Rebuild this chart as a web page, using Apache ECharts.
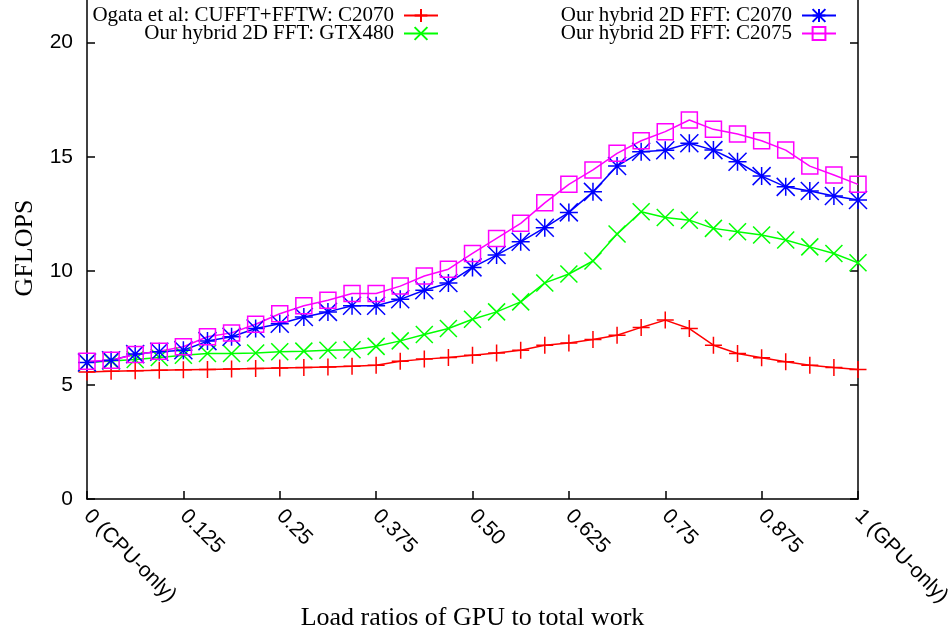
<!DOCTYPE html>
<html>
<head>
<meta charset="utf-8">
<script src="https://cdn.jsdelivr.net/npm/echarts@6/dist/echarts.min.js"></script>
<style>
  html, body { margin: 0; padding: 0; background: #fff; }
  #chart { width: 950px; height: 636px; }
</style>
</head>
<body>
<div id="chart"></div>
<script>
// Share of the work handed to the GPU (x) for each measurement
const ratios = [0, 0.03125, 0.0625, 0.09375, 0.125, 0.15625, 0.1875, 0.21875, 0.25,
  0.28125, 0.3125, 0.34375, 0.375, 0.40625, 0.4375, 0.46875, 0.5, 0.53125, 0.5625,
  0.59375, 0.625, 0.65625, 0.6875, 0.71875, 0.75, 0.78125, 0.8125, 0.84375, 0.875,
  0.90625, 0.9375, 0.96875, 1];

// GFLOPS per configuration
const ogataC2070 = [5.57, 5.60, 5.62, 5.64, 5.66, 5.68, 5.70, 5.72, 5.74, 5.76, 5.79,
  5.82, 5.86, 6.04, 6.13, 6.20, 6.30, 6.40, 6.52, 6.74, 6.84, 6.99, 7.18, 7.52, 7.84,
  7.47, 6.74, 6.38, 6.19, 6.01, 5.86, 5.76, 5.67];
const hybridGTX480 = [5.98, 6.05, 6.11, 6.20, 6.30, 6.38, 6.38, 6.40, 6.45, 6.48, 6.52,
  6.54, 6.69, 6.93, 7.21, 7.47, 7.88, 8.20, 8.64, 9.47, 9.86, 10.43, 11.61, 12.59, 12.34,
  12.22, 11.86, 11.71, 11.57, 11.35, 11.05, 10.76, 10.35];
const hybridC2070 = [5.98, 6.08, 6.35, 6.45, 6.52, 6.92, 7.11, 7.47, 7.68, 7.98, 8.20,
  8.47, 8.47, 8.75, 9.15, 9.47, 10.15, 10.69, 11.27, 11.89, 12.56, 13.46, 14.59, 15.22,
  15.28, 15.59, 15.29, 14.78, 14.15, 13.68, 13.50, 13.28, 13.10];
const hybridC2075 = [6.04, 6.08, 6.33, 6.48, 6.67, 7.11, 7.28, 7.66, 8.12, 8.47, 8.71,
  9.01, 9.01, 9.33, 9.77, 10.07, 10.76, 11.42, 12.08, 12.98, 13.79, 14.42, 15.15, 15.70,
  16.10, 16.61, 16.20, 16.00, 15.70, 15.29, 14.59, 14.20, 13.79];

const xTickLabels = ['0 (CPU-only)', '0.125', '0.25', '0.375', '0.50', '0.625', '0.75',
  '0.875', '1 (GPU-only)'];
const seriesNames = ['Ogata et al: CUFFT+FFTW: C2070', 'Our hybrid 2D FFT: GTX480',
  'Our hybrid 2D FFT: C2070', 'Our hybrid 2D FFT: C2075'];

const SERIF = 'Liberation Serif, Times New Roman, serif';
const SANS = 'Liberation Sans, Arial, sans-serif';

// gnuplot-style point glyphs drawn as open strokes
const SYM_PLUS = 'path://M0,-1L0,1M-1,0L1,0';
const SYM_CROSS = 'path://M-1,-1L1,1M-1,1L1,-1';
const SYM_STAR = 'path://M0,-1L0,1M-1,0L1,0M-1,-1L1,1M-1,1L1,-1';
const SYM_BOX = 'path://M-1,-1L1,-1L1,1L-1,1Z';

function pairs(ys) { return ys.map((y, i) => [ratios[i], y]); }

function makeSeries(name, ys, color, symbol, size) {
  return {
    name: name,
    type: 'line',
    data: pairs(ys),
    clip: false,
    symbol: symbol,
    symbolSize: size,
    showSymbol: true,
    lineStyle: { color: color, width: 1.5 },
    itemStyle: { color: 'rgba(0,0,0,0)', borderColor: color, borderWidth: 1.5 },
    emphasis: { disabled: true },
    animation: false
  };
}

function makeLegend(name, top, right) {
  return {
    data: [name],
    top: top,
    right: right,
    padding: 0,
    orient: 'horizontal',
    align: 'right',
    itemWidth: 34,
    itemHeight: 16,
    itemGap: 0,
    selectedMode: false,
    textStyle: { fontFamily: SERIF, fontSize: 21, color: '#000', padding: [0, 5, 0, 0] }
  };
}

const chart = echarts.init(document.getElementById('chart'), null, { renderer: 'canvas' });

const axisLineStyle = { color: '#000', width: 1.5 };

chart.setOption({
  backgroundColor: '#fff',
  animation: false,
  grid: {
    left: 87, right: 92, top: -3, bottom: 137,
    containLabel: false,
    outerBoundsMode: 'none'
  },
  legend: [
    makeLegend(seriesNames[0], 5, 511),
    makeLegend(seriesNames[1], 23, 511),
    makeLegend(seriesNames[2], 5, 113),
    makeLegend(seriesNames[3], 23, 113)
  ],
  xAxis: {
    type: 'value',
    min: 0,
    max: 1,
    interval: 0.125,
    name: 'Load ratios of GPU to total work',
    nameLocation: 'middle',
    nameGap: 106,
    nameMoveOverlap: false,
    nameTextStyle: { fontFamily: SERIF, fontSize: 26, color: '#000' },
    axisLine: { show: true, lineStyle: axisLineStyle },
    axisTick: { show: true, inside: true, length: 8, lineStyle: axisLineStyle },
    splitLine: { show: false },
    axisLabel: {
      rotate: -45,
      margin: 14,
      fontFamily: SANS,
      fontSize: 21,
      color: '#000',
      formatter: v => xTickLabels[Math.round(v / 0.125)]
    }
  },
  yAxis: [
    {
      type: 'value',
      min: 0,
      max: 22,
      interval: 5,
      name: 'GFLOPS',
      nameLocation: 'middle',
      nameGap: 49,
      nameMoveOverlap: false,
      nameRotate: 90,
      nameTextStyle: { fontFamily: SERIF, fontSize: 26, color: '#000' },
      axisLine: { show: true, lineStyle: axisLineStyle },
      axisTick: { show: true, inside: true, length: 8, lineStyle: axisLineStyle },
      splitLine: { show: false },
      axisLabel: {
        margin: 14,
        fontFamily: SANS,
        fontSize: 21,
        color: '#000',
        formatter: v => (v % 5 === 0 ? String(v) : '')
      }
    },
    {
      type: 'value',
      position: 'right',
      min: 0,
      max: 22,
      interval: 5,
      axisLine: { show: true, lineStyle: axisLineStyle },
      axisTick: { show: true, inside: true, length: 8, lineStyle: axisLineStyle },
      axisLabel: { show: false },
      splitLine: { show: false }
    }
  ],
  series: [
    makeSeries(seriesNames[0], ogataC2070, '#ff0000', SYM_PLUS, 17),
    makeSeries(seriesNames[1], hybridGTX480, '#00ff00', SYM_CROSS, 17),
    makeSeries(seriesNames[2], hybridC2070, '#0000ff', SYM_STAR, 18),
    makeSeries(seriesNames[3], hybridC2075, '#ff00ff', SYM_BOX, 16)
  ]
});
</script>
</body>
</html>
